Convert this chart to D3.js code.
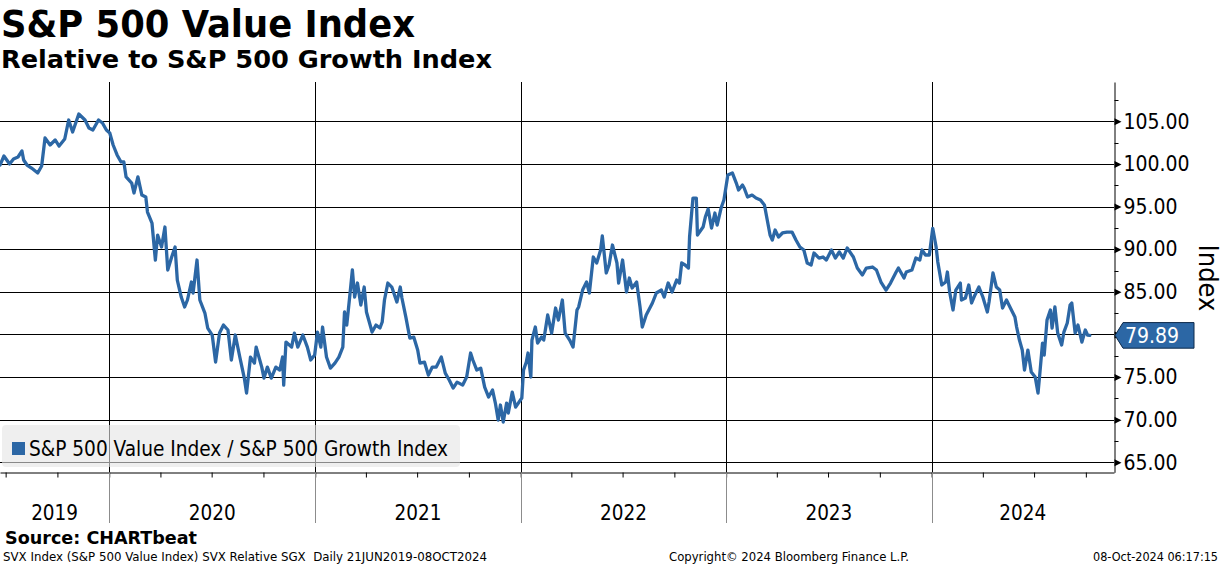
<!DOCTYPE html>
<html>
<head>
<meta charset="utf-8">
<script src="https://d3js.org/d3.v7.min.js"></script>
<style>
  body { margin: 0; background: #ffffff; }
  svg { display: block; }
  text { font-family: 'DejaVu Sans Condensed', 'DejaVu Sans', sans-serif; fill: #000; }
</style>
</head>
<body>
<div id="chart"></div>
<script>
// SVX relative to SGX
const dates = [
  "2019-06-21","2019-06-28","2019-07-08","2019-07-15","2019-07-23","2019-07-30","2019-08-02","2019-08-08","2019-08-16","2019-08-27",
  "2019-09-03","2019-09-09","2019-09-18","2019-09-27","2019-10-04","2019-10-14","2019-10-21","2019-10-28","2019-11-08","2019-11-19",
  "2019-11-26","2019-12-03","2019-12-13","2019-12-20","2019-12-27",
  "2020-01-02","2020-01-08","2020-01-15","2020-01-22","2020-01-27","2020-01-31","2020-02-10","2020-02-14","2020-02-21","2020-02-28",
  "2020-03-06","2020-03-09","2020-03-17","2020-03-23","2020-03-27","2020-04-03","2020-04-09","2020-04-14","2020-04-21","2020-04-27",
  "2020-05-01","2020-05-08","2020-05-14","2020-05-19","2020-05-26","2020-05-29","2020-06-05","2020-06-10","2020-06-19","2020-06-24",
  "2020-07-02","2020-07-08","2020-07-15","2020-07-22","2020-07-30","2020-08-05","2020-08-12","2020-08-20","2020-08-28","2020-09-01",
  "2020-09-08","2020-09-15","2020-09-18","2020-09-28","2020-10-02","2020-10-08","2020-10-15","2020-10-23","2020-10-30","2020-11-04",
  "2020-11-06","2020-11-10","2020-11-20","2020-11-25","2020-12-01","2020-12-10","2020-12-18","2020-12-24","2020-12-31",
  "2021-01-05","2021-01-11","2021-01-14","2021-01-21","2021-01-28","2021-02-05","2021-02-12","2021-02-19","2021-02-22","2021-02-26",
  "2021-03-03","2021-03-08","2021-03-12","2021-03-17","2021-03-23","2021-03-29","2021-04-02","2021-04-12","2021-04-19","2021-04-26",
  "2021-04-30","2021-05-04","2021-05-10","2021-05-17","2021-05-26","2021-06-01","2021-06-04","2021-06-11","2021-06-18","2021-06-25",
  "2021-07-02","2021-07-06","2021-07-14","2021-07-21","2021-07-28","2021-08-04","2021-08-13","2021-08-20","2021-08-27","2021-09-03",
  "2021-09-10","2021-09-20","2021-09-27","2021-10-04","2021-10-08","2021-10-15","2021-10-22","2021-10-29","2021-11-05","2021-11-12",
  "2021-11-17","2021-11-22","2021-11-26","2021-12-01","2021-12-07","2021-12-10","2021-12-17","2021-12-23",
  "2022-01-03","2022-01-06","2022-01-11","2022-01-14","2022-01-19","2022-01-21","2022-01-27","2022-01-31","2022-02-07","2022-02-11",
  "2022-02-18","2022-02-25","2022-03-04","2022-03-09","2022-03-16","2022-03-21","2022-03-29","2022-04-04","2022-04-11","2022-04-14",
  "2022-04-21","2022-04-28","2022-05-03","2022-05-10","2022-05-16","2022-05-23","2022-05-26","2022-06-02","2022-06-07","2022-06-13",
  "2022-06-21","2022-06-24","2022-07-01","2022-07-08","2022-07-13","2022-07-18","2022-07-26","2022-08-01","2022-08-05","2022-08-12",
  "2022-08-23","2022-08-30","2022-09-08","2022-09-13","2022-09-20","2022-09-27","2022-10-05","2022-10-10","2022-10-14","2022-10-20",
  "2022-10-26","2022-10-28","2022-11-03","2022-11-09","2022-11-11","2022-11-21","2022-11-25","2022-11-30","2022-12-06","2022-12-12",
  "2022-12-16","2022-12-23","2022-12-28","2022-12-30",
  "2023-01-04","2023-01-12","2023-01-19","2023-01-23","2023-01-30","2023-02-02","2023-02-08","2023-02-16","2023-02-23","2023-03-03",
  "2023-03-10","2023-03-15","2023-03-20","2023-03-24","2023-03-29","2023-04-04","2023-04-11","2023-04-19","2023-04-28","2023-05-05",
  "2023-05-12","2023-05-19","2023-05-25","2023-06-01","2023-06-06","2023-06-15","2023-06-22","2023-06-28","2023-07-07","2023-07-14",
  "2023-07-21","2023-07-28","2023-08-04","2023-08-15","2023-08-22","2023-08-31","2023-09-07","2023-09-18","2023-09-25","2023-10-03",
  "2023-10-12","2023-10-20","2023-10-30","2023-11-03","2023-11-13","2023-11-17","2023-11-27","2023-12-04","2023-12-11","2023-12-15",
  "2023-12-21","2023-12-28",
  "2024-01-03","2024-01-09","2024-01-12","2024-01-19","2024-01-26","2024-01-29","2024-02-02","2024-02-08","2024-02-13","2024-02-21",
  "2024-02-23","2024-03-01","2024-03-07","2024-03-12","2024-03-18","2024-03-25","2024-04-01","2024-04-09","2024-04-12","2024-04-19",
  "2024-04-25","2024-05-01","2024-05-06","2024-05-13","2024-05-20","2024-05-28","2024-05-31","2024-06-05","2024-06-10","2024-06-14",
  "2024-06-20","2024-06-26","2024-07-03","2024-07-08","2024-07-11","2024-07-16","2024-07-19","2024-07-24","2024-07-30","2024-08-02",
  "2024-08-07","2024-08-12","2024-08-19","2024-08-23","2024-08-29","2024-09-03","2024-09-06","2024-09-12","2024-09-17","2024-09-24",
  "2024-09-30","2024-10-04","2024-10-08"
];
const values = [
  99.87,100.93,99.99,100.58,100.81,101.52,100.46,99.87,99.52,98.94,
  99.76,103.04,102.22,102.81,102.10,102.92,105.15,103.74,105.86,105.15,
  104.21,103.98,105.15,104.80,103.98,
  103.63,102.22,101.05,100.23,100.23,98.47,97.76,96.59,98.47,96.35,
  96.12,94.36,93.07,88.73,91.66,90.26,92.60,87.56,89.08,90.26,
  86.38,84.39,83.22,84.04,86.15,84.86,88.73,84.04,82.51,80.75,
  79.93,76.76,80.16,81.10,80.52,77.00,79.93,77.35,74.88,73.13,
  77.35,76.64,78.52,76.17,74.88,76.17,74.88,76.17,75.82,77.35,
  74.06,79.11,78.52,80.16,78.52,79.93,78.52,77.00,77.58,
  80.28,78.52,80.87,77.35,76.05,76.64,77.35,78.52,82.63,81.10,
  84.27,87.56,84.39,86.03,83.45,85.56,82.63,80.28,81.10,80.75,
  81.46,84.04,86.03,85.56,83.80,85.56,84.27,82.04,79.58,79.69,
  78.17,76.64,76.76,75.23,76.17,76.17,77.35,75.46,74.65,73.71,
  74.41,74.06,75.00,77.82,77.00,75.82,76.05,73.83,72.66,73.48,
  71.95,69.96,71.72,69.72,71.95,70.78,73.24,71.48,
  72.54,75.82,76.76,77.82,75.00,79.34,80.87,78.99,79.69,79.34,
  82.28,80.16,83.10,81.69,84.04,80.16,79.34,78.52,82.87,83.22,
  85.21,86.15,84.86,89.08,88.38,89.90,91.55,87.21,88.15,90.49,
  88.38,86.03,88.73,84.98,86.62,85.45,86.15,83.22,80.87,82.28,
  83.69,84.86,85.21,84.39,86.03,84.98,86.38,86.03,88.38,88.15,
  87.79,91.43,96.00,96.00,91.66,92.60,93.77,94.71,92.48,94.24,
  92.83,94.83,95.77,96.59,
  98.70,98.94,97.76,96.94,97.53,97.18,96.12,96.35,96.00,95.77,
  95.18,93.42,91.66,91.08,92.25,91.43,91.90,92.01,92.01,91.08,
  90.26,89.90,88.38,88.15,89.55,88.96,89.08,88.73,89.90,88.96,
  89.67,88.96,90.14,89.08,87.79,86.97,87.79,87.91,87.56,86.15,
  85.21,86.03,87.32,87.79,86.62,87.32,87.56,88.96,88.73,89.90,
  89.32,89.32,
  92.45,90.26,88.50,85.80,86.15,87.32,84.98,82.87,85.21,86.03,
  84.04,84.27,85.80,83.69,84.63,85.56,84.39,82.63,83.80,87.21,
  85.56,85.21,83.10,84.04,83.10,82.04,80.87,79.34,78.17,75.82,
  78.17,75.59,75.00,73.13,75.23,78.99,77.58,81.69,82.87,80.75,
  83.22,80.16,78.76,80.28,81.34,83.45,83.69,80.16,81.10,79.11,
  80.52,79.93,79.89
];
const yTicks = [65, 70, 75, 80, 85, 90, 95, 100, 105];
const yMinor = [67.5, 72.5, 77.5, 82.5, 87.5, 92.5, 97.5, 102.5, 107.5];
const years = ["2019", "2020", "2021", "2022", "2023", "2024"];
const seriesName = "S&P 500 Value Index / S&P 500 Growth Index";
const lastValue = 79.89;

const W = 1224, H = 566;
const plotL = 0, plotR = 1114, plotT = 82, plotB = 472.3;
const lineColor = "#2c67a5";
const parse = d3.utcParse("%Y-%m-%d");
const data = dates.map((d, i) => ({ date: parse(d), value: values[i] }));

const svg = d3.select("#chart").append("svg").attr("width", W).attr("height", H);

const x = d3.scaleUtc().domain([parse("2019-06-21"), parse("2024-11-20")]).range([plotL, plotR]);
const y = d3.scaleLinear().domain([63.83, 109.61]).range([plotB, plotT]);
const px = v => Math.round(v) + 0.5;

// titles
svg.append("text").attr("x", 1).attr("y", 37).attr("font-size", 37).attr("font-weight", "bold")
    .attr("textLength", 414).attr("lengthAdjust", "spacingAndGlyphs").text("S&P 500 Value Index");
svg.append("text").attr("x", 1).attr("y", 68).attr("font-size", 24).attr("font-weight", "bold")
    .attr("textLength", 491).attr("lengthAdjust", "spacingAndGlyphs").text("Relative to S&P 500 Growth Index");

// grid
const grid = svg.append("g");
grid.selectAll("line.h").data(yTicks).join("line")
    .attr("x1", plotL).attr("x2", plotR)
    .attr("y1", d => px(y(d))).attr("y2", d => px(y(d)))
    .attr("stroke", "#000").attr("stroke-width", 1);
const yearStarts = years.slice(1).map(yr => parse(yr + "-01-01"));
grid.selectAll("line.v").data(yearStarts).join("line")
    .attr("x1", d => px(x(d))).attr("x2", d => px(x(d)))
    .attr("y1", plotT).attr("y2", plotB)
    .attr("stroke", "#000").attr("stroke-width", 1);

// legend box (drawn under the line, see-through)
const leg = svg.append("g");
leg.append("rect").attr("x", 2).attr("y", 425).attr("width", 458).attr("height", 42).attr("rx", 4)
    .attr("fill", "#e4e4e4").attr("fill-opacity", 0.6);
leg.append("rect").attr("x", 12).attr("y", 442).attr("width", 13).attr("height", 13).attr("fill", lineColor);
leg.append("text").attr("x", 29).attr("y", 456).attr("font-size", 20.5)
    .attr("textLength", 419).attr("lengthAdjust", "spacingAndGlyphs").text(seriesName);

// series
const line = d3.line().x(d => x(d.date)).y(d => y(d.value));
svg.append("path").datum(data).attr("d", line)
    .attr("fill", "none").attr("stroke", lineColor).attr("stroke-width", 3.3)
    .attr("stroke-linejoin", "round").attr("stroke-linecap", "round");

// right axis (the 80.00 label sits under the last-value tag in the original)
const yAxis = d3.axisRight(y).tickValues(yTicks).tickSize(0).tickPadding(5).tickFormat(d3.format(".2f"));
const ya = svg.append("g").attr("transform", `translate(${px(plotR)},0)`).call(yAxis);
ya.select(".domain").attr("stroke", "#000");
ya.selectAll(".tick text").attr("font-size", 21).attr("fill", "#000").attr("x", 9)
    .style("font-family", "'DejaVu Sans Condensed', 'DejaVu Sans', sans-serif");
ya.selectAll(".tick").append("path").attr("d", "M0,-3.5L7,0L0,3.5Z").attr("fill", "#000");
svg.append("g").selectAll("line").data(yMinor).join("line")
    .attr("x1", px(plotR)).attr("x2", px(plotR) + 4)
    .attr("y1", d => px(y(d))).attr("y2", d => px(y(d)))
    .attr("stroke", "#000");
svg.append("text").attr("transform", `translate(1199,278) rotate(90)`)
    .attr("text-anchor", "middle").attr("font-size", 27).text("Index");

// last value tag, drawn over the axis label it hides
const ly = y(lastValue);
svg.append("path")
    .attr("d", `M${plotR + 1},${ly} L${plotR + 9},${ly - 12.8} L1194,${ly - 12.8} L1194,${ly + 12.8} L${plotR + 9},${ly + 12.8} Z`)
    .attr("fill", lineColor).attr("stroke", "#0d2a4a").attr("stroke-width", 1);
ya.selectAll(".tick text").filter(d => Math.abs(d - lastValue) < 2.5).remove();
svg.append("text").attr("x", 1125).attr("y", ly).attr("dy", "0.36em").attr("font-size", 21)
    .style("fill", "#fff").text(d3.format(".2f")(lastValue));

// bottom axis
const quarters = d3.utcMonth.every(3).range(x.domain()[0], x.domain()[1]);
const xAxis = d3.axisBottom(x).tickValues(quarters).tickSize(5).tickSizeOuter(0).tickFormat("");
const xa = svg.append("g").attr("transform", `translate(0,${px(plotB)})`).call(xAxis);
xa.select(".domain").attr("stroke", "#000");
xa.selectAll(".tick line").attr("stroke", "#000");
svg.append("g").selectAll("line").data(yearStarts).join("line")
    .attr("x1", d => px(x(d))).attr("x2", d => px(x(d)))
    .attr("y1", px(plotB)).attr("y2", 523)
    .attr("stroke", "#8c8c8c");
svg.append("g").selectAll("text").data(years).join("text")
    .attr("x", yr => {
      const a = Math.max(plotL, x(parse(yr + "-01-01")));
      const b = Math.min(plotR, x(parse((+yr + 1) + "-01-01")));
      return (a + b) / 2;
    })
    .attr("y", 520).attr("text-anchor", "middle").attr("font-size", 20.5).text(d => d);

// footer
svg.append("text").attr("x", 5).attr("y", 544).attr("font-size", 18).attr("font-weight", "bold")
    .attr("textLength", 192).attr("lengthAdjust", "spacingAndGlyphs").text("Source: CHARTbeat");
svg.append("text").attr("x", 3).attr("y", 561).attr("font-size", 12)
    .attr("textLength", 484).attr("lengthAdjust", "spacingAndGlyphs")
    .text("SVX Index (S&P 500 Value Index) SVX Relative SGX\u00A0 Daily 21JUN2019-08OCT2024");
svg.append("text").attr("x", 669).attr("y", 561).attr("font-size", 12)
    .attr("textLength", 240).attr("lengthAdjust", "spacingAndGlyphs")
    .text("Copyright\u00A9 2024 Bloomberg Finance L.P.");
svg.append("text").attr("x", 1218).attr("y", 561).attr("font-size", 12).attr("text-anchor", "end")
    .attr("textLength", 125).attr("lengthAdjust", "spacingAndGlyphs")
    .text("08-Oct-2024 06:17:15");
</script>
</body>
</html>
